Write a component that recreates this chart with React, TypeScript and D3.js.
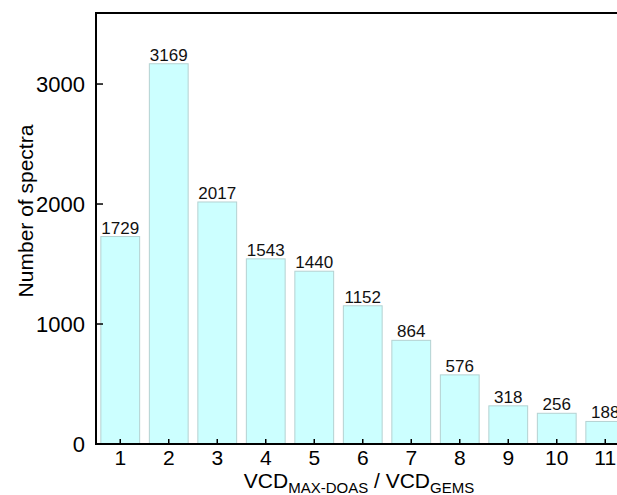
import React from "react";
import * as d3 from "d3";

const categories = [1, 2, 3, 4, 5, 6, 7, 8, 9, 10, 11];
const counts = [1729, 3169, 2017, 1543, 1440, 1152, 864, 576, 318, 256, 188];
const yTicks = [0, 1000, 2000, 3000];

export default function App() {
  const W = 617, H = 495;
  const left = 96, top = 13, bottom = 444;
  const step = 48.5;
  const x = d3.scaleLinear().domain([0.5, 11.5]).range([left, left + 11 * step]);
  const y = d3.scaleLinear().domain([0, 3592]).range([bottom, top]);
  const bw = step * 0.8;
  const font = "Arial, 'Liberation Sans', Helvetica, sans-serif";

  return (
    <svg width={W} height={H} style={{ position: "absolute", left: 0, top: 0 }} fontFamily={font}>
      <rect width={W} height={H} fill="#fff" />
      {categories.map((c, i) => (
        <g key={c}>
          <rect
            x={x(c) - bw / 2}
            y={y(counts[i])}
            width={bw}
            height={y(0) - y(counts[i])}
            fill="#ccffff"
            stroke="#b4d2d2"
            strokeWidth={1}
          />
          <text x={x(c)} y={y(counts[i]) - 3} textAnchor="middle" fontSize={17} fill="#111">
            {counts[i]}
          </text>
        </g>
      ))}
      {/* axes */}
      <line x1={left} x2={W} y1={top} y2={top} stroke="#000" strokeWidth={2} />
      <line x1={left} x2={left} y1={top - 1} y2={bottom + 1} stroke="#000" strokeWidth={2} />
      <line x1={left - 1} x2={W} y1={bottom} y2={bottom} stroke="#000" strokeWidth={2} />
      {yTicks.map((t) => (
        <g key={t}>
          <line x1={left} x2={left + 7} y1={y(t)} y2={y(t)} stroke="#000" strokeWidth={1.5} />
          <text x={85} y={y(t)} dy="0.36em" textAnchor="end" fontSize={22} fill="#000">
            {t}
          </text>
        </g>
      ))}
      {categories.map((c) => (
        <g key={"xt" + c}>
          <line x1={x(c)} x2={x(c)} y1={bottom} y2={bottom - 5} stroke="#000" strokeWidth={1.5} />
          <text x={x(c)} y={465} textAnchor="middle" fontSize={21} fill="#000">
            {c}
          </text>
        </g>
      ))}
      <text x={359} y={488} textAnchor="middle" fontSize={21} fill="#000">
        <tspan>VCD</tspan>
        <tspan fontSize={15} dy={5}>MAX-DOAS</tspan>
        <tspan dy={-5}> / VCD</tspan>
        <tspan fontSize={15} dy={5}>GEMS</tspan>
      </text>
      <text
        transform={`translate(33, 211) rotate(-90)`}
        textAnchor="middle"
        fontSize={21}
        fill="#000"
      >
        Number of spectra
      </text>
    </svg>
  );
}
